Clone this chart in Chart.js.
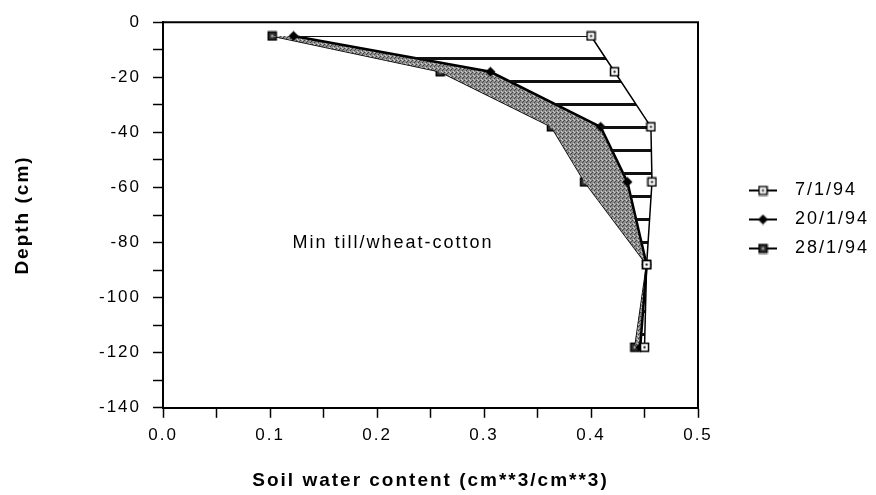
<!DOCTYPE html>
<html>
<head>
<meta charset="utf-8">
<script src="https://cdn.jsdelivr.net/npm/chart.js@4.4.1/dist/chart.umd.min.js"></script>
<style>
  html, body { margin: 0; padding: 0; background: #fff; }
  #wrap { width: 876px; height: 495px; }
</style>
</head>
<body>
<div id="wrap"><canvas id="myChart"></canvas></div>
<script>
// soil water profiles, depth in cm (negative = below surface)
const depths = [-5, -18, -38, -58, -88, -118];
const jan7 = [0.400, 0.422, 0.456, 0.457, 0.452, 0.450];
const jan20 = [0.122, 0.306, 0.409, 0.434, 0.452, 0.446];
const jan28 = [0.102, 0.259, 0.363, 0.394, 0.452, 0.441];
const seriesLabels = ['7/1/94', '20/1/94', '28/1/94'];

// labelled ticks (minor ticks are drawn in between without labels)
const xTickLabels = [0, 0.1, 0.2, 0.3, 0.4, 0.5];
const yTickLabels = [0, -20, -40, -60, -80, -100, -120, -140];

const noteText = 'Min till/wheat-cotton';
const notePos = { x: 0.121, y: -80 };

const FONT = '"Liberation Sans", Arial, sans-serif';
Chart.defaults.font.family = FONT;
Chart.defaults.color = '#000';

// horizontal hatching between 7/1 and 20/1
function hatchPattern() {
    const c = document.createElement('canvas');
    c.width = 8; c.height = 23;
    const g = c.getContext('2d');
    g.fillStyle = '#111';
    g.fillRect(0, 11, 8, 3);
    return g.createPattern(c, 'repeat');
}

// stippled grey between 20/1 and 28/1
function stipplePattern() {
    const c = document.createElement('canvas');
    c.width = 4; c.height = 4;
    const g = c.getContext('2d');
    g.fillStyle = '#8e8e8e';
    g.fillRect(0, 0, 4, 4);
    g.fillStyle = '#444';
    g.fillRect(0, 0, 1, 1);
    g.fillRect(2, 2, 1, 1);
    g.fillRect(3, 1, 1, 1);
    g.fillStyle = '#d0d0d0';
    g.fillRect(1, 3, 1, 1);
    g.fillRect(2, 0, 1, 1);
    return g.createPattern(c, 'repeat');
}

// markers
function marker(kind) {
    const c = document.createElement('canvas');
    c.width = 11; c.height = 11;
    const g = c.getContext('2d');
    if (kind === 'open') {
        g.fillStyle = '#fff'; g.fillRect(1, 1, 9, 9);
        g.strokeStyle = '#000'; g.lineWidth = 1.5; g.strokeRect(1.5, 1.5, 8, 8);
        g.fillStyle = '#000'; g.fillRect(4.5, 4.5, 2, 2);
    } else if (kind === 'diamond') {
        g.fillStyle = '#000';
        g.beginPath(); g.moveTo(5.5, 0.5); g.lineTo(10.5, 5.5); g.lineTo(5.5, 10.5); g.lineTo(0.5, 5.5); g.closePath(); g.fill();
    } else {
        g.fillStyle = '#333'; g.fillRect(1, 1, 9, 9);
        g.strokeStyle = '#000'; g.lineWidth = 1.5; g.strokeRect(1.5, 1.5, 8, 8);
        g.fillStyle = '#ddd'; g.fillRect(4.5, 4.5, 2, 2);
    }
    return c;
}

// line + marker for the legend; blank space on the left pushes it away from the plot
function legendIcon(m) {
    const c = document.createElement('canvas');
    c.width = 77; c.height = 12;
    const g = c.getContext('2d');
    g.strokeStyle = '#000';
    g.lineWidth = 2;
    g.beginPath(); g.moveTo(40, 6); g.lineTo(68, 6); g.stroke();
    g.drawImage(m, 54 - 5.5, 0.5);
    return c;
}

const markers = [marker('open'), marker('diamond'), marker('filled')];
const icons = markers.map(legendIcon);

function toPoints(values) {
    return values.map((v, i) => ({ x: v, y: depths[i] }));
}

// text in the old plot is widely spaced
const spacingPlugin = {
    id: 'spacing',
    beforeUpdate(chart) { chart.ctx.letterSpacing = '2px'; },
    beforeDraw(chart) { chart.ctx.letterSpacing = '2px'; }
};

const framePlugin = {
    id: 'frame',
    afterDraw(chart) {
        const { left, top, right, bottom } = chart.chartArea;
        const ctx = chart.ctx;
        ctx.save();
        ctx.strokeStyle = '#000';
        ctx.lineWidth = 2;
        ctx.beginPath();
        ctx.moveTo(left, top);
        ctx.lineTo(right, top);
        ctx.lineTo(right, bottom);
        ctx.stroke();
        ctx.restore();
    }
};

const notePlugin = {
    id: 'note',
    afterDatasetsDraw(chart) {
        const ctx = chart.ctx;
        const px = chart.scales.x.getPixelForValue(notePos.x);
        const py = chart.scales.y.getPixelForValue(notePos.y);
        ctx.save();
        ctx.font = '18px ' + FONT;
        ctx.fillStyle = '#000';
        ctx.textBaseline = 'middle';
        ctx.fillText(noteText, px, py);
        ctx.restore();
    }
};

const ctx = document.getElementById('myChart').getContext('2d');
const chart = new Chart(ctx, {
    type: 'line',
    data: {
        datasets: [{
            label: seriesLabels[0],
            data: toPoints(jan7),
            borderColor: '#000',
            borderWidth: 1.5,
            backgroundColor: hatchPattern(),
            fill: '+1',
            pointStyle: markers[0]
        }, {
            label: seriesLabels[1],
            data: toPoints(jan20),
            borderColor: '#000',
            borderWidth: 2.5,
            backgroundColor: stipplePattern(),
            fill: '+1',
            pointStyle: markers[1]
        }, {
            label: seriesLabels[2],
            data: toPoints(jan28),
            borderColor: '#000',
            borderWidth: 1.5,
            fill: false,
            pointStyle: markers[2]
        }]
    },
    options: {
        responsive: true,
        maintainAspectRatio: false,
        animation: false,
        indexAxis: 'y',
        layout: { padding: { left: 8, top: 20, right: 0, bottom: 2 } },
        scales: {
            x: {
                type: 'linear',
                position: 'bottom',
                min: 0,
                max: 0.5,
                ticks: {
                    stepSize: 0.05,
                    font: { size: 17 },
                    padding: 7,
                    maxRotation: 0,
                    autoSkip: false,
                    callback: (v) => xTickLabels.some(t => Math.abs(t - v) < 1e-6) ? v.toFixed(1) : ''
                },
                grid: { drawOnChartArea: false, tickLength: 10, tickColor: '#000', tickWidth: 1.5 },
                border: { color: '#000', width: 2 },
                title: {
                    display: true,
                    text: 'Soil water content (cm**3/cm**3)',
                    font: { size: 19, weight: 'bold' },
                    padding: { top: 17, bottom: 1 }
                }
            },
            y: {
                type: 'linear',
                min: -140,
                max: 0,
                ticks: {
                    stepSize: 10,
                    font: { size: 17 },
                    padding: 12,
                    autoSkip: false,
                    callback: (v) => yTickLabels.includes(v) ? String(v) : ''
                },
                grid: { drawOnChartArea: false, tickLength: 10, tickColor: '#000', tickWidth: 1.5 },
                border: { color: '#000', width: 2 },
                title: {
                    display: true,
                    text: 'Depth (cm)',
                    font: { size: 19, weight: 'bold' },
                    padding: { top: 3.6, bottom: 52.6 }
                }
            }
        },
        plugins: {
            tooltip: { enabled: false },
            legend: {
                position: 'right',
                fullSize: false,
                maxWidth: 178,
                // empty title only nudges the entries down a little
                title: { display: true, text: ' ', padding: 0, font: { size: 7.5 } },
                labels: {
                    usePointStyle: true,
                    pointStyleWidth: 77,
                    padding: 11,
                    font: { size: 18 },
                    color: '#000',
                    generateLabels: (c) => c.data.datasets.map((ds, i) => ({
                        text: ds.label,
                        pointStyle: icons[i],
                        fontColor: '#000',
                        lineWidth: 0,
                        datasetIndex: i
                    }))
                }
            }
        }
    },
    plugins: [spacingPlugin, framePlugin, notePlugin]
});
</script>
</body>
</html>
